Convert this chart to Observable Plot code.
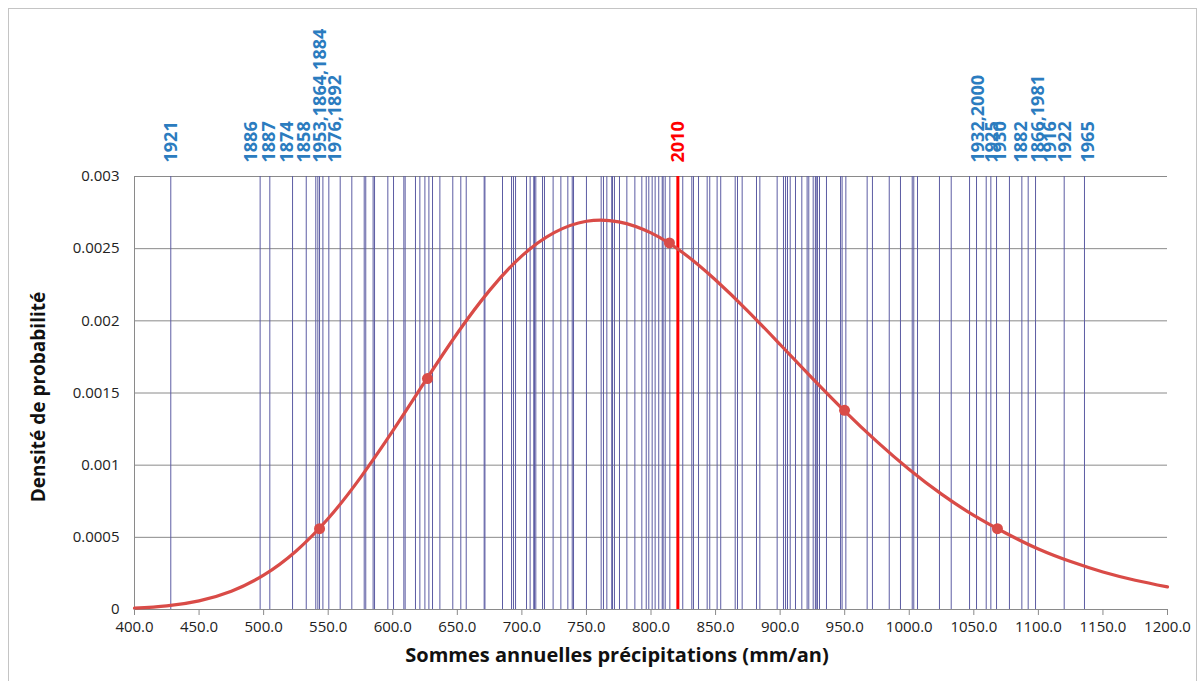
<!DOCTYPE html>
<html>
<head>
<meta charset="utf-8">
<script src="https://cdn.jsdelivr.net/npm/d3@7"></script>
<script src="https://cdn.jsdelivr.net/npm/@observablehq/plot@0.6"></script>
<style>
  html, body { margin: 0; padding: 0; background: #fff; }
  #wrap { position: relative; width: 1203px; height: 681px; overflow: hidden; }
  #border { position: absolute; left: 8px; top: 8px; width: 1187px; height: 700px; border: 1px solid #c4c4c4; pointer-events: none; }
  svg { font-family: "Open Sans", sans-serif; }
</style>
</head>
<body>
<div id="wrap"><div id="border"></div></div>
<script>
// Annual precipitation sums (mm/yr) — one vertical line per year
const yearValues = [
  428.1, 497.3, 504.8, 522.4, 533.0, 540.4, 542.0, 543.3, 545.9, 550.5, 559.3, 568.3, 577.9, 579.1, 584.8, 585.9, 596.2, 600.6,
  608.6, 609.6, 617.6, 621.0, 624.9, 628.0, 630.8, 636.5, 646.5, 652.7, 656.9, 670.8, 671.4, 685.0, 692.0, 693.5, 695.1, 703.6,
  706.4, 709.2, 709.8, 710.8, 716.0, 717.5, 724.2, 730.2, 735.6, 739.0, 740.0, 750.0, 761.4, 763.2, 765.8, 769.6, 770.2, 771.7,
  775.6, 781.3, 787.5, 792.9, 796.3, 798.3, 800.9, 803.2, 806.0, 808.7, 809.4, 811.0, 814.6,
  824.6, 831.6, 832.9, 836.8, 843.5, 845.5, 851.2, 854.0, 865.2, 867.0, 870.6, 881.7, 884.3, 897.7, 902.6, 904.2, 905.7, 907.8,
  911.9, 916.8, 920.9, 922.2, 925.6, 927.3, 927.9, 928.9, 930.5, 935.9, 946.8, 948.0, 950.9, 967.4, 971.5, 984.5, 993.2,
  1002.3, 1003.5, 1006.4, 1023.4, 1032.5, 1046.7, 1052.1, 1059.6, 1063.2, 1067.6, 1077.6, 1087.2, 1092.1, 1097.8, 1120.0, 1135.7
];
const year2010Value = 820.8;

// Year labels (text, x position in mm/yr)
const yearLabels = ["1921", "1886", "1887", "1874", "1858", "1953,1864,1884", "1976,1892",
                    "1932,2000", "1925", "1930", "1882", "1866,1981", "1916", "1922", "1965"];
const yearLabelX = [428.4, 490.4, 504.5, 518.3, 531.7, 543.5, 555.7,
                    1053.1, 1064.5, 1070.1, 1086.9, 1099.9, 1109.4, 1121.0, 1139.0];
const label2010 = "2010";

// Fitted density curve
const curveX = [400, 425, 450, 475, 500, 525, 550, 575, 600, 625, 650, 675, 700, 725, 750, 775, 800, 825,
                850, 875, 900, 925, 950, 975, 1000, 1025, 1050, 1075, 1100, 1125, 1150, 1175, 1200];
const curveY = [0.000009, 0.000025, 0.00006, 0.000127, 0.000238, 0.000404, 0.00063, 0.000914, 0.001237, 0.00158,
                0.001914, 0.002211, 0.00245, 0.002611, 0.00269, 0.002686, 0.002609, 0.00247,
                0.002283, 0.002068, 0.001836, 0.001602, 0.001375, 0.001163, 0.00097, 0.000799, 0.000652, 0.000528,
                0.000419, 0.000332, 0.00026, 0.000203, 0.000157];

// Highlighted points on the curve
const markerX = [543.3, 626.9, 814.3, 949.9, 1068.3];
const markerY = [0.00056, 0.00160, 0.00254, 0.00138, 0.00056];

const xTicks = [400, 450, 500, 550, 600, 650, 700, 750, 800, 850, 900, 950, 1000, 1050, 1100, 1150, 1200];
const yTicks = [0, 0.0005, 0.001, 0.0015, 0.002, 0.0025, 0.003];
const xTitle = "Sommes annuelles précipitations (mm/an)";
const yTitle = "Densité de probabilité";

const curve = curveX.map((x, i) => ({x, y: curveY[i]}));
const markers = markerX.map((x, i) => ({x, y: markerY[i]}));
const labels = yearLabels.map((t, i) => ({label: t, x: yearLabelX[i]}));

const red = "#d94b47";
const blue = "#2b7cbf";

const chart = Plot.plot({
  width: 1203,
  height: 681,
  marginLeft: 134,
  marginRight: 36,
  marginTop: 176,
  marginBottom: 72,
  style: {fontFamily: "'Open Sans', sans-serif", background: "transparent", overflow: "visible"},
  x: {domain: [400, 1200]},
  y: {domain: [0, 0.003]},
  marks: [
    Plot.ruleY(yTicks, {stroke: "#8a8a8a", strokeWidth: 1}),
    Plot.ruleX([400], {stroke: "#8a8a8a", strokeWidth: 1}),
    Plot.ruleX(yearValues, {stroke: "#5c5ca3", strokeWidth: 1}),
    Plot.ruleX([year2010Value], {stroke: "#ff0000", strokeWidth: 3}),
    Plot.line(curve, {x: "x", y: "y", stroke: red, strokeWidth: 3.2, curve: "natural"}),
    Plot.dot(markers, {x: "x", y: "y", r: 5.5, fill: red, stroke: "none"}),
    Plot.axisX({ticks: xTicks, tickFormat: d3.format(".1f"), tickSize: 6, tickPadding: 6, stroke: "#8a8a8a",
                fontSize: 15, color: "#222", label: null}),
    Plot.axisY({ticks: yTicks, tickFormat: d => String(d), tickSize: 0, tickPadding: 15,
                fontSize: 15, color: "#222", label: null}),
    Plot.text(labels, {x: "x", text: "label", frameAnchor: "top", dy: -14, rotate: -90, textAnchor: "start",
                       lineAnchor: "middle", fill: blue, fontSize: 18, fontWeight: "bold"}),
    Plot.text([label2010], {x: () => year2010Value, text: d => d, frameAnchor: "top", dy: -14, rotate: -90,
                            textAnchor: "start", lineAnchor: "middle", fill: "#ff0000", fontSize: 18, fontWeight: "bold"}),
    Plot.text([xTitle], {text: d => d, frameAnchor: "bottom", dx: -34, dy: 52, fontSize: 20, fontWeight: "bold", fill: "#111"}),
    Plot.text([yTitle], {text: d => d, frameAnchor: "left", dx: -96, dy: 4, rotate: -90, textAnchor: "middle",
                         fontSize: 19, fontWeight: "bold", fill: "#111"})
  ]
});
document.getElementById("wrap").prepend(chart);
</script>
</body>
</html>
